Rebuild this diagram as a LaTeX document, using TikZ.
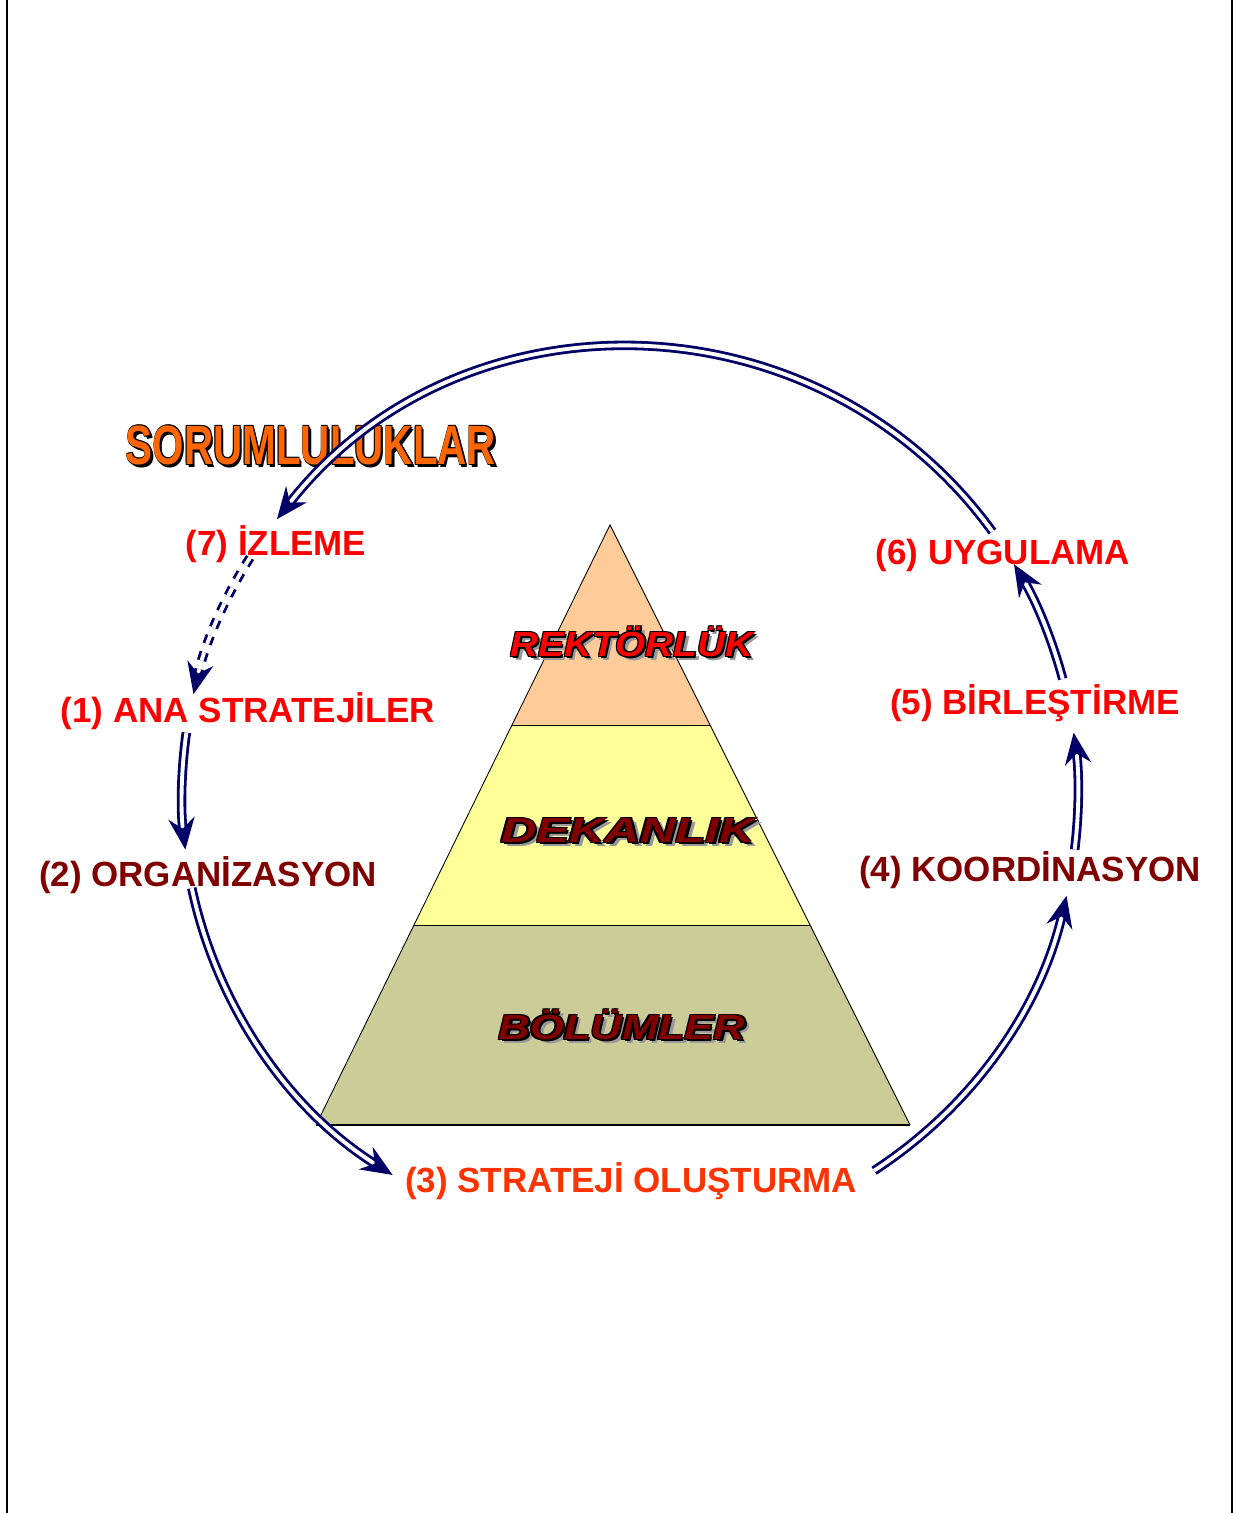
\documentclass[tikz,border=0pt]{standalone}
\usepackage{fontspec}
\setmainfont{Liberation Sans}
\usetikzlibrary{arrows.meta,calc}

\definecolor{navy}{HTML}{000066}
\definecolor{peach}{HTML}{FFCC99}
\definecolor{paleyellow}{HTML}{FFFF99}
\definecolor{khaki}{HTML}{CCCC99}
\definecolor{darkred}{HTML}{800000}
\definecolor{orangered}{HTML}{FF3300}
\definecolor{sorange}{HTML}{FF6600}
\definecolor{shadowgray}{HTML}{999999}

% text with black rim and offset shadow
\newcommand{\outlined}[4]{%
  \rlap{\kern#4\raisebox{-#4}{\color{#3}#1}}%
  \rlap{\kern-.6pt\raisebox{.6pt}{\color{black}#1}}%
  \rlap{\kern.6pt\raisebox{.6pt}{\color{black}#1}}%
  \rlap{\kern-.6pt\raisebox{-.6pt}{\color{black}#1}}%
  \rlap{\kern1pt\raisebox{-1pt}{\color{black}#1}}%
  {\color{#2}#1}}

\begin{document}
\begin{tikzpicture}[x=0.02cm, y=0.02cm,
    flow/.style={draw=navy, line width=1.6pt, double=white, double distance=2.2pt,
      -{Stealth[length=18pt, width=15pt, inset=6pt]}},
    steplabel/.style={font=\bfseries\fontsize{19.9}{22}\selectfont, inner sep=0pt},
    tier/.style={font=\bfseries\itshape\fontsize{19.8}{22}\selectfont, inner sep=0pt}]

\path[use as bounding box] (0,0) rectangle (1233,1513);

\draw[line width=0.6pt] (7,0) -- (7,1513);
\draw[line width=0.6pt] (1232,0) -- (1232,1513);

% pyramid
\coordinate (apex) at (610,988);
\coordinate (bl) at (316,388);
\coordinate (br) at (910,388);
\coordinate (l1) at ($(apex)!1/3!(bl)$);
\coordinate (r1) at ($(apex)!1/3!(br)$);
\coordinate (l2) at ($(apex)!2/3!(bl)$);
\coordinate (r2) at ($(apex)!2/3!(br)$);

\fill[peach] (apex) -- (r1) -- (l1) -- cycle;
\fill[paleyellow] (l1) -- (r1) -- (r2) -- (l2) -- cycle;
\fill[khaki] (l2) -- (r2) -- (br) -- (bl) -- cycle;
\draw[line width=0.5pt] (bl) -- (apex) -- (br);
\draw[line width=0.5pt] (l1) -- (r1);
\draw[line width=0.5pt] (l2) -- (r2);
\draw[line width=1.4pt] (bl) -- (br);

\node[tier, xscale=1.11] (rektor) at (632,870) {\outlined{REKTÖRLÜK}{red}{shadowgray}{2.2pt}};
\node[tier, xscale=1.41] (dekan) at (628,681) {\outlined{DEKANLIK}{darkred}{shadowgray}{2.2pt}};
\node[tier, xscale=1.25] (bolum) at (622,487) {\outlined{BÖLÜMLER}{darkred}{shadowgray}{2.2pt}};

% title
\node[font=\bfseries\fontsize{31.5}{33}\selectfont, inner sep=0pt, xscale=0.73] (sorum) at (311,1067)
  {\outlined{SORUMLULUKLAR}{sorange}{black}{1.7pt}};

% steps
\node[steplabel, text=red] (izleme) at (276,969) {(7) İZLEME};
\node[steplabel, text=red] (anastr) at (248,802) {(1) ANA STRATEJİLER};
\node[steplabel, text=darkred] (organ) at (208,638) {(2) ORGANİZASYON};
\node[steplabel, text=orangered] (strolus) at (631,332) {(3) STRATEJİ OLUŞTURMA};
\node[steplabel, text=darkred] (koord) at (1030,643) {(4) KOORDİNASYON};
\node[steplabel, text=red] (birles) at (1035,810) {(5) BİRLEŞTİRME};
\node[steplabel, text=red] (uygul) at (1003,958) {(6) UYGULAMA};

% cycle
\coordinate (c) at (630,718);
\foreach \n/\a in {a1/36, a2/142, b1/148, b2/167, c1/172, c2/187, d1/192, d2/238,
                   e1/303, e2/347, f1/353, f2/368, g1/15, g2/31}
    \coordinate (\n) at ($(c)+(\a:448)$);

\draw[flow] (a1) to[bend right=53, looseness=1.06] (a2);
\draw[flow, dash pattern=on 5pt off 5pt] (b1) to[bend right=10, looseness=0.86] (b2);
\draw[flow] (c1) to[bend right=7.5, looseness=0.86] (c2);
\draw[flow] (d1) to[bend right=23, looseness=0.89] (d2);
\draw[flow] (e1) to[bend right=22, looseness=0.89] (e2);
\draw[flow] (f1) to[bend right=7.5, looseness=0.86] (f2);
\draw[flow] (g1) to[bend right=8, looseness=0.86] (g2);

\end{tikzpicture}
\end{document}
